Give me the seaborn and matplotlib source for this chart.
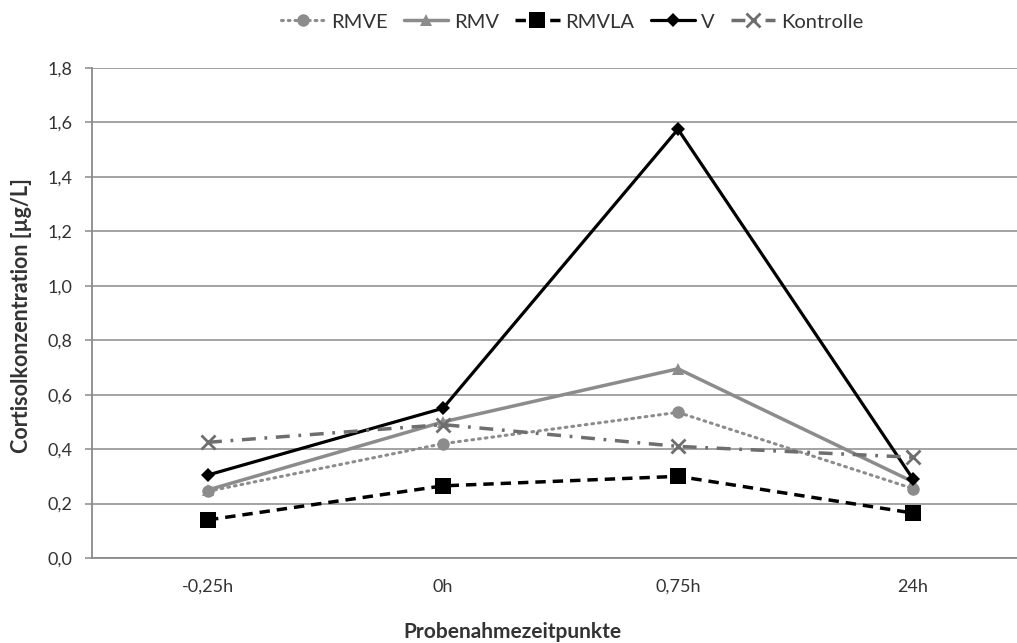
import matplotlib
matplotlib.use("Agg")
import matplotlib.pyplot as plt
import seaborn as sns
import pandas as pd
from matplotlib.ticker import FuncFormatter

categories = ["-0,25h", "0h", "0,75h", "24h"]
rmve = [0.245, 0.42, 0.535, 0.255]
rmv = [0.25, 0.50, 0.695, 0.28]
rmvla = [0.14, 0.265, 0.30, 0.165]
v = [0.305, 0.55, 1.575, 0.29]
kontrolle = [0.425, 0.49, 0.41, 0.37]
series_names = ["RMVE", "RMV", "RMVLA", "V", "Kontrolle"]

sns.set_theme(style="white")
plt.rcParams['font.family'] = ['Lato', 'DejaVu Sans']

fig = plt.figure(figsize=(10.17, 6.43), dpi=100)
ax = fig.add_axes([92/1017, 1-558/643, 925/1017, (558-68)/643])

styles = {
    "RMVE": dict(color="#8c8c8c", marker="o", ms=9, lw=2.2, ls=(0, (0.6, 1.6)), dash_capstyle="round"),
    "RMV": dict(color="#8c8c8c", marker="^", ms=9, lw=2.5, ls="-"),
    "RMVLA": dict(color="black", marker="s", ms=11, lw=2.5, ls=(0, (3, 2))),
    "V": dict(color="black", marker="D", ms=7, lw=2.3, ls="-"),
    "Kontrolle": dict(color="#6e6e6e", marker="x", ms=10, mew=2, lw=2.5, ls=(0, (4, 2.5, 0.8, 2.5))),
}
data = {"RMVE": rmve, "RMV": rmv, "RMVLA": rmvla, "V": v, "Kontrolle": kontrolle}

for name in series_names:
    st = dict(styles[name])
    df = pd.DataFrame({"t": categories, "c": data[name]})
    color = st.pop("color")
    marker = st.pop("marker")
    ms = st.pop("ms")
    lw = st.pop("lw")
    ls = st.pop("ls")
    extra = {"markeredgewidth": st.pop("mew", 0)}
    if "dash_capstyle" in st:
        extra["dash_capstyle"] = st.pop("dash_capstyle")
    sns.lineplot(data=df, x="t", y="c", ax=ax, color=color, marker=marker,
                 markersize=ms, linewidth=lw, linestyle=ls, markeredgecolor=color,
                 markerfacecolor=color, label=name, sort=False, **extra)

ax.set_xlim(-116/235, 3 + 104/235)
ax.set_ylim(0, 1.8)
ax.set_yticks([i * 0.2 for i in range(10)])
ax.yaxis.set_major_formatter(FuncFormatter(lambda y, p: f"{y:.1f}".replace(".", ",")))
ax.grid(axis="y", color="#8a8a8a", linewidth=1.1)
ax.set_axisbelow(True)
for s in ["top", "right"]:
    ax.spines[s].set_visible(False)
for s in ["left", "bottom"]:
    ax.spines[s].set_color("#8a8a8a")
    ax.spines[s].set_linewidth(1.3)
ax.tick_params(axis="y", which="major", left=True, length=5, width=1.1, color="#8a8a8a",
               labelsize=13, labelcolor="#333333", pad=9)
ax.tick_params(axis="x", bottom=False, labelsize=13, labelcolor="#333333", pad=9)
ax.set_xlabel("")
ax.set_ylabel("")
fig.text(512/1017, 1-632/643, "Probenahmezeitpunkte", ha="center", va="center",
         fontsize=15, fontweight="bold", color="#333333")
fig.text(22/1017, 1-316/643, "Cortisolkonzentration [µg/L]", ha="center", va="center",
         rotation=90, fontsize=15.5, fontweight="bold", color="#333333")

h, l = ax.get_legend_handles_labels()
ax.get_legend().remove()
fig.legend(h, l, loc="center", bbox_to_anchor=(572/1017, 1-22/643), ncol=5, frameon=False,
           fontsize=14.5, handlelength=2.2, columnspacing=0.8, handletextpad=0.3,
           labelcolor="#333333")

fig.savefig("out.png", dpi=100)
